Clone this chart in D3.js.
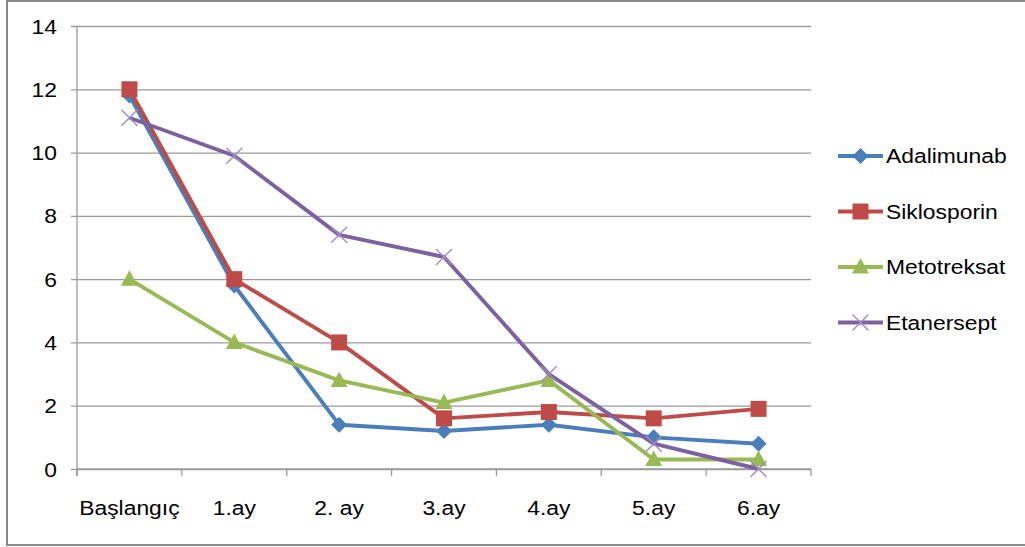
<!DOCTYPE html>
<html>
<head>
<meta charset="utf-8">
<script src="https://cdn.jsdelivr.net/npm/d3@7"></script>
<style>
  html, body { margin: 0; padding: 0; background: #fff; }
  svg { display: block; }
  text { font-family: "Liberation Sans", Arial, sans-serif; fill: #000; }
</style>
</head>
<body>
<svg id="chart" width="1025" height="547"></svg>
<script>
// Categories (time points) and series values
const categories = ["Başlangıç", "1.ay", "2. ay", "3.ay", "4.ay", "5.ay", "6.ay"];
const adalimunab  = [11.8, 5.8, 1.4, 1.2, 1.4, 1.0, 0.8];
const siklosporin = [12.0, 6.0, 4.0, 1.6, 1.8, 1.6, 1.9];
const metotreksat = [6.0, 4.0, 2.8, 2.1, 2.8, 0.3, 0.3];
const etanersept  = [11.1, 9.9, 7.4, 6.7, 3.0, 0.8, 0.0];
const yTicks = [0, 2, 4, 6, 8, 10, 12, 14];

const seriesNames = ["Adalimunab", "Siklosporin", "Metotreksat", "Etanersept"];
const seriesValues = [adalimunab, siklosporin, metotreksat, etanersept];
const seriesColors = ["#4A7EBB", "#BE4B48", "#98B954", "#7D60A0"];
const seriesMarkers = ["diamond", "square", "triangle", "cross"];

const series = seriesNames.map((name, i) => ({
  name, values: seriesValues[i], color: seriesColors[i], marker: seriesMarkers[i]
}));

const svg = d3.select("#chart");
const STRETCH = 1.11;          // horizontal text stretch
const FONT = 20.6;

// Outer frame
svg.append("rect")
  .attr("x", 7).attr("y", 1)
  .attr("width", 1040).attr("height", 544)
  .attr("fill", "none").attr("stroke", "#8a8a8a").attr("stroke-width", 2);

const plot = { left: 77, right: 811, top: 26, bottom: 469 };

const x = d3.scaleBand().domain(categories).range([plot.left, plot.right]).padding(0);
const y = d3.scaleLinear().domain([0, 14]).range([plot.bottom, plot.top]);

// Horizontal gridlines + y-axis labels
const yAxis = d3.axisLeft(y).tickValues(yTicks).tickSize(-(plot.right - plot.left)).tickPadding(0);
const gy = svg.append("g").attr("transform", `translate(${plot.left},0)`).call(yAxis);
gy.select(".domain").remove();
gy.selectAll(".tick line")
  .attr("x1", -6)
  .attr("x2", plot.right - plot.left)
  .attr("stroke", "#9a9a9a").attr("stroke-width", 1.3);
gy.selectAll(".tick text")
  .attr("x", null)
  .attr("dy", null)
  .attr("dominant-baseline", "central")
  .attr("text-anchor", "end")
  .attr("transform", `translate(-20,0) scale(${STRETCH},1)`)
  .style("font-size", FONT + "px")
  .style("font-family", '"Liberation Sans", Arial, sans-serif')
  .attr("fill", "#000");

// Vertical axis line
svg.append("line")
  .attr("x1", plot.left).attr("x2", plot.left)
  .attr("y1", plot.top).attr("y2", plot.bottom + 7)
  .attr("stroke", "#9a9a9a").attr("stroke-width", 1.3);

// Category axis with ticks at band boundaries
const boundaries = categories.map(c => x(c)).concat([x.range()[1]]);
const gx = svg.append("g");
gx.append("line")
  .attr("x1", plot.left).attr("x2", plot.right)
  .attr("y1", plot.bottom).attr("y2", plot.bottom)
  .attr("stroke", "#9a9a9a").attr("stroke-width", 1.3);
gx.selectAll("line.tick").data(boundaries).enter().append("line")
  .attr("class", "tick")
  .attr("x1", d => d).attr("x2", d => d)
  .attr("y1", plot.bottom).attr("y2", plot.bottom + 7)
  .attr("stroke", "#9a9a9a").attr("stroke-width", 1.3);
gx.selectAll("text").data(categories).enter().append("text")
  .attr("transform", d => `translate(${x(d) + x.bandwidth() / 2},515) scale(${STRETCH},1)`)
  .attr("text-anchor", "middle")
  .style("font-size", FONT + "px")
  .text(d => d);

// Marker shapes
function drawMarker(g, type, color) {
  if (type === "diamond") {
    g.append("path").attr("d", "M0,-8L8,0L0,8L-8,0Z").attr("fill", color);
  } else if (type === "square") {
    g.append("rect").attr("x", -8).attr("y", -8).attr("width", 16).attr("height", 16).attr("fill", color);
  } else if (type === "triangle") {
    g.append("path").attr("d", "M0,-9L8.5,6.5L-8.5,6.5Z").attr("fill", color);
  } else if (type === "cross") {
    g.append("path").attr("d", "M-8,-8L8,8M-8,8L8,-8")
      .attr("stroke", "#A08CC0").attr("stroke-width", 1.4).attr("fill", "none");
  }
}

const line = d3.line()
  .x((d, i) => x(categories[i]) + x.bandwidth() / 2)
  .y(d => y(d));

series.forEach(s => {
  const g = svg.append("g");
  g.append("path")
    .datum(s.values)
    .attr("d", line)
    .attr("fill", "none")
    .attr("stroke", s.color)
    .attr("stroke-width", 3.9)
    .attr("stroke-linejoin", "round");
  s.values.forEach((v, i) => {
    const m = g.append("g")
      .attr("transform", `translate(${x(categories[i]) + x.bandwidth() / 2},${y(v)})`);
    drawMarker(m, s.marker, s.color);
  });
});

// Legend
const legend = svg.append("g");
series.forEach((s, i) => {
  const cy = 156 + i * 55.5;
  const item = legend.append("g");
  item.append("line")
    .attr("x1", 838).attr("x2", 883)
    .attr("y1", cy).attr("y2", cy)
    .attr("stroke", s.color).attr("stroke-width", 3.9);
  const m = item.append("g").attr("transform", `translate(860.5,${cy})`);
  drawMarker(m, s.marker, s.color);
  item.append("text")
    .attr("transform", `translate(886,${cy}) scale(${STRETCH},1)`)
    .attr("dominant-baseline", "central")
    .style("font-size", FONT + "px")
    .text(s.name);
});
</script>
</body>
</html>
